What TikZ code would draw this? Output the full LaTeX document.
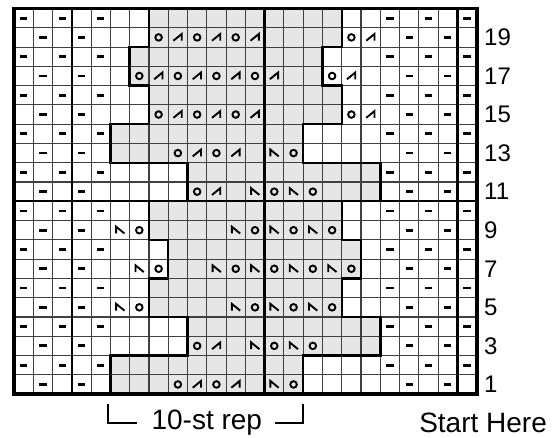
\documentclass[tikz,border=0pt]{standalone}
\usepackage{fontspec}
\setmainfont{Liberation Sans}
\definecolor{lacefill}{HTML}{E6E6E6}
\definecolor{chartgrid}{HTML}{404040}

\begin{document}
\begin{tikzpicture}[
  x=19.28pt,
  y=19.28pt,
  line join=miter,
  cellgrid/.style={draw=chartgrid,line width=1.1pt},
  heavy/.style={draw=black,line width=2.4pt,line cap=rect},
  frame/.style={draw=black,line width=3.6pt},
  lace/.style={fill=lacefill,draw=none},
  stitch/.style={draw=black,line width=1.9pt,line cap=round},
  purlbar/.style={draw=black,line width=2.8pt},
  rowno/.style={anchor=west,inner sep=0pt,font=\fontsize{24}{24}\selectfont},
  caption/.style={anchor=base,inner sep=0pt,font=\fontsize{28}{28}\selectfont},
  yarnover/.pic={\draw[stitch] (0,0) circle[radius=0.17];},
  ktwotog/.pic={\draw[stitch,line cap=butt] (-0.23,-0.17) -- (0.2,0.18) -- (0.2,-0.17);},
  sslant/.pic={\draw[stitch,line cap=butt] (-0.2,-0.17) -- (-0.2,0.18) -- (0.23,-0.17);},
  purl/.pic={\draw[purlbar] (-0.19,0) -- (0.19,0);}
]
  \useasboundingbox (-0.726,-2.256) rectangle (27.905,20.441);

  % Shaded lace panel, ten stitches wide, shifting every two rows.
  \foreach \l [count=\p] in {5,9,7,8,7,9,5,7,6,7} {
    \path[lace] (\l,2*\p-2) rectangle (\l+10,2*\p);
  }

  % Cell grid, 24 sts by 20 rows.
  \draw[cellgrid,step={(1,1)}] (0,0) grid (24,20);

  % Heavy guide lines every ten stitches and at row 10.
  \foreach \c in {3,13,23} {
    \draw[heavy] (\c,0) -- (\c,20);
  }
  \draw[heavy] (0,10) -- (24,10);

  % Outline of the lace panel.
  \draw[heavy] (5,0) -- (5,2) -- (9,2) -- (9,4) -- (7,4) -- (7,6) -- (8,6)
    -- (8,8) -- (7,8) -- (7,10) -- (9,10) -- (9,12) -- (5,12) -- (5,14)
    -- (7,14) -- (7,16) -- (6,16) -- (6,18) -- (7,18) -- (7,20) -- (17,20)
    -- (17,18) -- (16,18) -- (16,16) -- (17,16) -- (17,14) -- (15,14)
    -- (15,12) -- (19,12) -- (19,10) -- (17,10) -- (17,8) -- (18,8)
    -- (18,6) -- (17,6) -- (17,4) -- (19,4) -- (19,2) -- (15,2) -- (15,0)
    -- cycle;

  % Outer frame.
  \draw[frame] (0,0) rectangle (24,20);

  % Purl bars on the edge stitches.
  \foreach \r in {2,4,...,20} {
    \foreach \c in {0,2,4,19,21,23} {
      \pic at (\c+0.5,\r-0.5) {purl};
    }
  }
  \foreach \r in {1,3,...,19} {
    \foreach \c in {1,3,20,22} {
      \pic at (\c+0.5,\r-0.5) {purl};
    }
  }

  % Rows 15, 17 and 19.
  \foreach \r in {15,19} {
    \foreach \c in {7,9,11,17} {\pic at (\c+0.5,\r-0.5) {yarnover};}
    \foreach \c in {8,10,12,18} {\pic at (\c+0.5,\r-0.5) {ktwotog};}
  }
  \foreach \c in {6,8,10,12,16} {\pic at (\c+0.5,16.5) {yarnover};}
  \foreach \c in {7,9,11,13,17} {\pic at (\c+0.5,16.5) {ktwotog};}

  % Rows 1 and 13.
  \foreach \r in {1,13} {
    \foreach \c in {8,10,14} {\pic at (\c+0.5,\r-0.5) {yarnover};}
    \foreach \c in {9,11} {\pic at (\c+0.5,\r-0.5) {ktwotog};}
    \pic at (13.5,\r-0.5) {sslant};
  }

  % Rows 3 and 11.
  \foreach \r in {3,11} {
    \foreach \c in {9,13,15} {\pic at (\c+0.5,\r-0.5) {yarnover};}
    \pic at (10.5,\r-0.5) {ktwotog};
    \foreach \c in {12,14} {\pic at (\c+0.5,\r-0.5) {sslant};}
  }

  % Rows 5, 7 and 9.
  \foreach \r in {5,9} {
    \foreach \c in {6,12,14,16} {\pic at (\c+0.5,\r-0.5) {yarnover};}
    \foreach \c in {5,11,13,15} {\pic at (\c+0.5,\r-0.5) {sslant};}
  }
  \foreach \c in {7,11,13,15,17} {\pic at (\c+0.5,6.5) {yarnover};}
  \foreach \c in {6,10,12,14,16} {\pic at (\c+0.5,6.5) {sslant};}

  % Row numbers on the right-side rows.
  \foreach \r in {1,3,...,19} {
    \node[rowno] (row\r) at (24.38,\r-0.5) {\r};
  }

  % Repeat bracket and start label.
  \node[caption] (rep) at (10,-1.84) {10-st rep};
  \coordinate (repL) at (4.89,-0.49);
  \coordinate (repR) at (15.0,-0.49);
  \draw[stitch,line cap=butt] (repL) |- (6.36,-1.49);
  \draw[stitch,line cap=butt] (repR) |- (13.54,-1.49);
  \node[caption] (start) at (24.33,-2.01) {Start Here};
\end{tikzpicture}
\end{document}
